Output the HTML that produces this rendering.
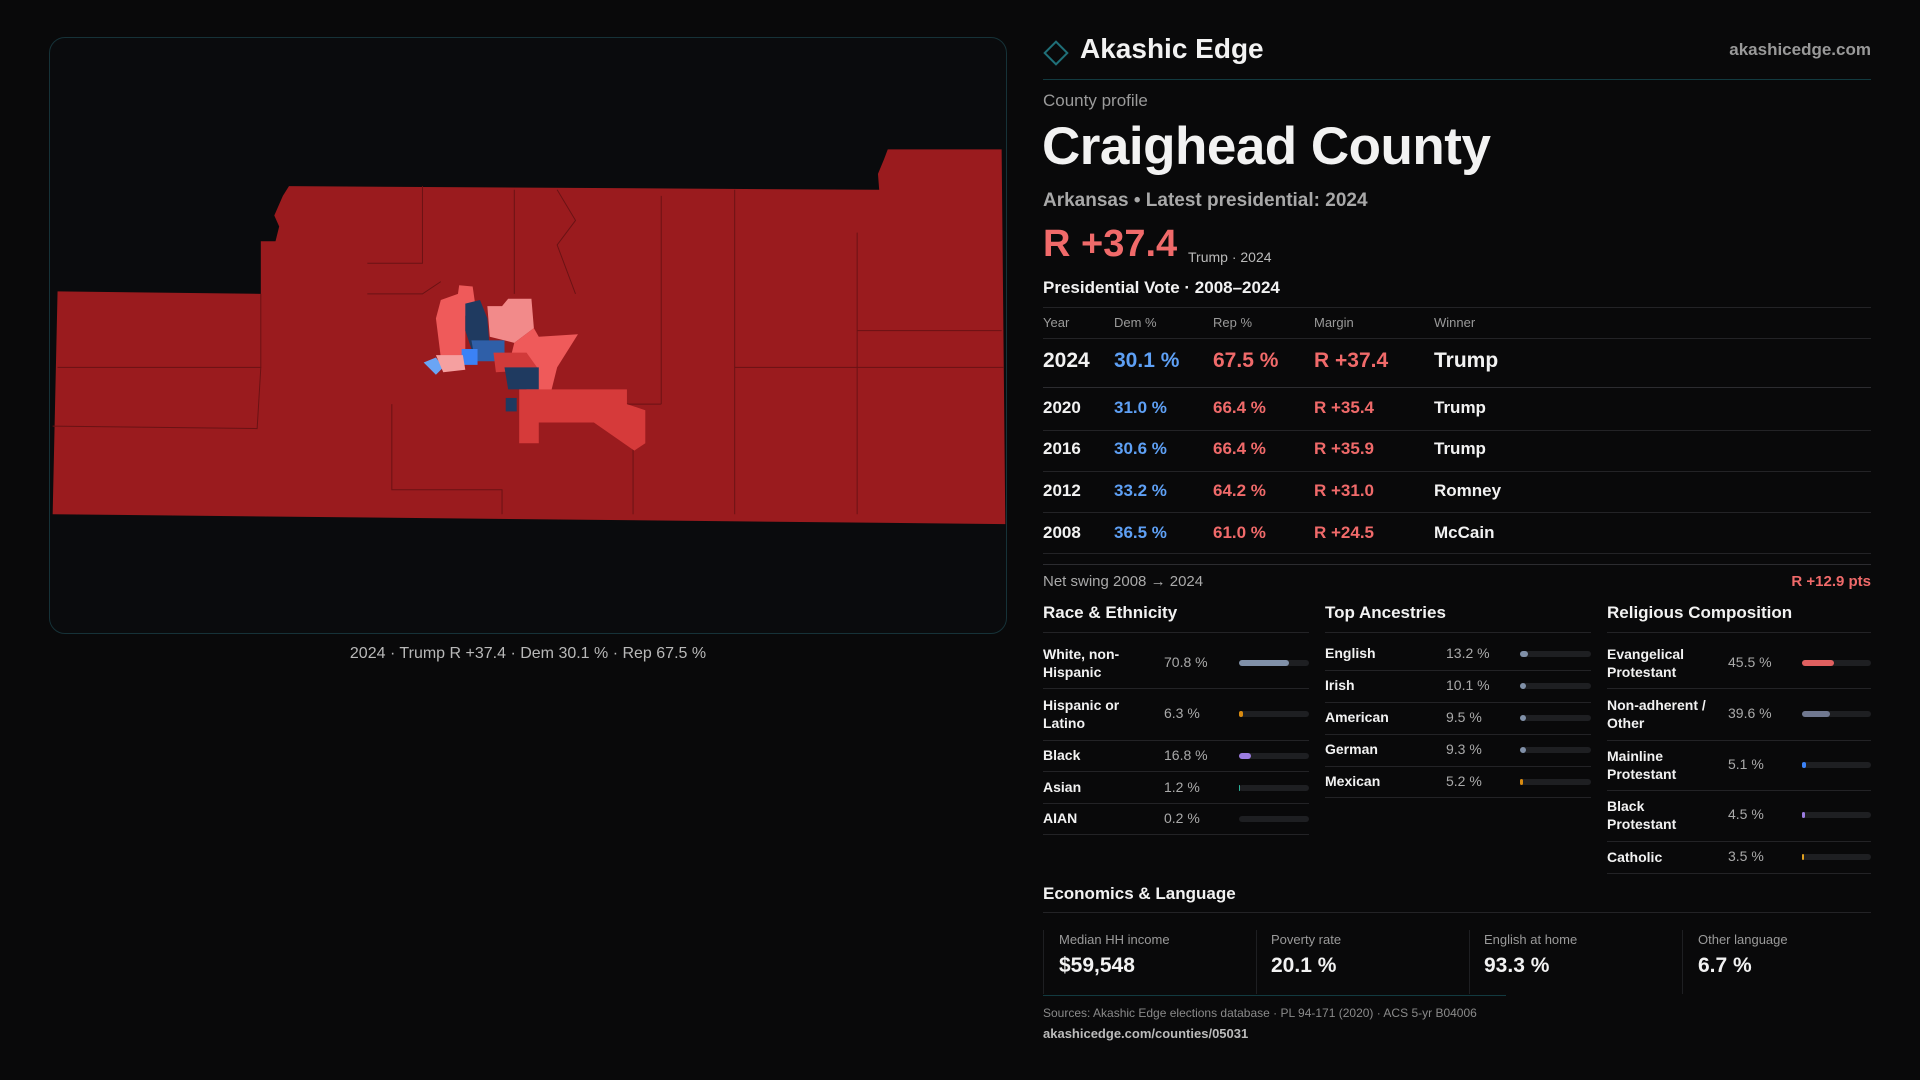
<!DOCTYPE html>
<html><head><meta charset="utf-8"><style>
*{margin:0;padding:0;box-sizing:border-box}
body{width:1920px;height:1080px;background:#09090a;font-family:"Liberation Sans",sans-serif;color:#f2f2f2;position:relative;overflow:hidden}
.a{position:absolute;white-space:nowrap}
.g{color:#9a9a9a}
.ln{position:absolute;height:1px;background:#232326}
.bar{position:absolute;height:6px;border-radius:3px;background:#1e1f22}
.bar i{position:absolute;left:0;top:0;height:6px;border-radius:3px}
.rb{color:#f06a6a}.bb{color:#5ea0f5}
.tb div{position:absolute;white-space:nowrap}
</style></head><body>
<div class="a" style="left:49px;top:37px;width:958px;height:597px;border:1px solid #163238;border-radius:16px;background:#0a0b0d"></div>
<svg class="a" style="left:0;top:0" width="1920" height="1080" viewBox="0 0 1568 882">
<path d="M47,238 L213,240 L213,197 L225,197 L228,185 L224,176 L231,160 L236,152 L718,155 L717,142 L722,130 L725,122 L818,122 L821,428 L43,420 Z" fill="#9a1b1e"/>
<g fill="none" stroke="#6a1214" stroke-width="0.8">
<path d="M213,240 L213,300 L47,300"/><path d="M213,300 L210,350 L43,348"/><path d="M345,152 L345,215 L300,215"/><path d="M420,155 L420,240"/><path d="M540,160 L540,330"/><path d="M600,155 L600,420"/><path d="M700,190 L700,420"/><path d="M540,330 L480,330"/><path d="M600,300 L820,300"/><path d="M320,330 L320,400 L410,400 L410,420"/><path d="M517,360 L517,420"/><path d="M700,270 L818,270"/><path d="M300,240 L345,240 L360,230"/><path d="M455,155 L470,180 L455,200 L470,240"/>
</g>
<path d="M360,245 L374,240 L375,233 L386,234 L388,248 L380,258 L380,290 L360,292 L356,260 Z" fill="#ef5a5a"/>
<path d="M380,248 L392,245 L398,260 L400,285 L385,285 L380,270 Z" fill="#1f3a60"/>
<path d="M398,250 L410,250 L415,244 L434,244 L436,268 L420,280 L400,275 Z" fill="#f28a8a"/>
<path d="M420,280 L436,268 L440,275 L472,273 L455,300 L450,320 L430,318 L415,300 Z" fill="#ef5a5a"/>
<path d="M385,278 L412,278 L412,295 L388,295 Z" fill="#2f5fa8"/>
<path d="M377,285 L390,285 L390,298 L377,298 Z" fill="#3b82f6"/>
<path d="M346,296 L356,292 L362,300 L356,306 Z" fill="#6aa5f5"/>
<path d="M356,290 L378,290 L380,302 L362,304 Z" fill="#f5a0a0"/>
<path d="M403,288 L430,288 L440,302 L405,304 Z" fill="#d13a3a"/>
<path d="M412,300 L440,300 L440,318 L415,318 Z" fill="#1f3a60"/>
<path d="M413,325 L422,325 L422,336 L413,336 Z" fill="#1f3a60"/>
<path d="M424,318 L512,318 L512,330 L527,335 L527,362 L518,368 L485,345 L440,345 L440,362 L424,362 Z" fill="#d63a3a"/>
</svg>
<div class="a" style="left:0;width:1056px;top:645px;text-align:center;font-size:16px;color:#b8b8b8">2024 · Trump R +37.4 · Dem 30.1 % · Rep 67.5 %</div>

<div class="a" style="left:1047px;top:44px;width:18px;height:18px;border:2px solid #1f6f78;transform:rotate(45deg)"></div>
<div class="a" style="left:1080px;top:33px;font-size:28px;font-weight:bold">Akashic Edge</div>
<div class="a g" style="right:49px;top:40px;font-size:17px;font-weight:bold;color:#999">akashicedge.com</div>
<div class="ln" style="left:1043px;width:828px;top:79px;background:#123a40"></div>
<div class="a g" style="left:1043px;top:91px;font-size:17px">County profile</div>
<div class="a" style="left:1042px;top:116px;font-size:53px;font-weight:bold;letter-spacing:-0.5px">Craighead County</div>
<div class="a" style="left:1043px;top:190px;font-size:19px;font-weight:bold;color:#a8a8a8">Arkansas • Latest presidential: 2024</div>
<div class="a rb" style="left:1043px;top:223px;font-size:38px;font-weight:bold">R +37.4</div>
<div class="a" style="left:1188px;top:249px;font-size:14px;color:#bbb">Trump · 2024</div>
<div class="a" style="left:1043px;top:278px;font-size:17px;font-weight:bold">Presidential Vote · 2008–2024</div>
<div class="ln" style="left:1043px;width:828px;top:307px"></div>
<div class="a g" style="left:1043px;top:315px;font-size:13px">Year</div>
<div class="a g" style="left:1114px;top:315px;font-size:13px">Dem %</div>
<div class="a g" style="left:1213px;top:315px;font-size:13px">Rep %</div>
<div class="a g" style="left:1314px;top:315px;font-size:13px">Margin</div>
<div class="a g" style="left:1434px;top:315px;font-size:13px">Winner</div>
<div class="ln" style="left:1043px;width:828px;top:338px"></div>
<div class="a" style="left:1043px;top:349px;font-size:21px;font-weight:bold">2024</div>
<div class="a bb" style="left:1114px;top:349px;font-size:21px;font-weight:bold">30.1 %</div>
<div class="a rb" style="left:1213px;top:349px;font-size:21px;font-weight:bold">67.5 %</div>
<div class="a rb" style="left:1314px;top:349px;font-size:21px;font-weight:bold">R +37.4</div>
<div class="a" style="left:1434px;top:349px;font-size:21px;font-weight:bold">Trump</div>
<div class="ln" style="left:1043px;width:828px;top:387px;background:#2c2c30"></div>
<div class="tb" style="position:absolute;left:1043px;top:398px;font-size:17px;font-weight:bold;line-height:20px">
<div style="top:0">2020</div><div class="bb" style="top:0;left:71px">31.0 %</div><div class="rb" style="top:0;left:170px">66.4 %</div><div class="rb" style="top:0;left:271px">R +35.4</div><div style="top:0;left:391px">Trump</div>
<div style="top:41px">2016</div><div class="bb" style="top:41px;left:71px">30.6 %</div><div class="rb" style="top:41px;left:170px">66.4 %</div><div class="rb" style="top:41px;left:271px">R +35.9</div><div style="top:41px;left:391px">Trump</div>
<div style="top:83px">2012</div><div class="bb" style="top:83px;left:71px">33.2 %</div><div class="rb" style="top:83px;left:170px">64.2 %</div><div class="rb" style="top:83px;left:271px">R +31.0</div><div style="top:83px;left:391px">Romney</div>
<div style="top:125px">2008</div><div class="bb" style="top:125px;left:71px">36.5 %</div><div class="rb" style="top:125px;left:170px">61.0 %</div><div class="rb" style="top:125px;left:271px">R +24.5</div><div style="top:125px;left:391px">McCain</div>
</div>
<div class="ln" style="left:1043px;width:828px;top:430px"></div>
<div class="ln" style="left:1043px;width:828px;top:471px"></div>
<div class="ln" style="left:1043px;width:828px;top:512px"></div>
<div class="ln" style="left:1043px;width:828px;top:553px"></div>
<div class="ln" style="left:1043px;width:828px;top:564px;background:#2c2c30"></div>
<div class="a" style="left:1043px;top:573px;font-size:15px;color:#aaa">Net swing 2008 → 2024</div>
<div class="a rb" style="right:49px;top:573px;font-size:15px;font-weight:bold">R +12.9 pts</div>

<div class="a" style="left:1043px;top:603px;font-size:17px;font-weight:bold">Race &amp; Ethnicity</div>
<div class="a" style="left:1325px;top:603px;font-size:17px;font-weight:bold">Top Ancestries</div>
<div class="a" style="left:1607px;top:603px;font-size:17px;font-weight:bold">Religious Composition</div>
<div class="ln" style="left:1043px;width:266px;top:632px"></div>
<div class="ln" style="left:1325px;width:266px;top:632px"></div>
<div class="ln" style="left:1607px;width:264px;top:632px"></div>

<div style="position:absolute;left:1043px;top:0;font-size:14px;font-weight:bold;line-height:18px">
<div class="a" style="top:645px">White, non-<br>Hispanic</div>
<div class="a" style="top:696px">Hispanic or<br>Latino</div>
<div class="a" style="top:746px">Black</div>
<div class="a" style="top:778px">Asian</div>
<div class="a" style="top:809px">AIAN</div>
</div>
<div style="position:absolute;left:1164px;top:0;font-size:14px;color:#aaa">
<div class="a" style="top:654px">70.8 %</div><div class="a" style="top:705px">6.3 %</div><div class="a" style="top:747px">16.8 %</div><div class="a" style="top:779px">1.2 %</div><div class="a" style="top:810px">0.2 %</div>
</div>
<div class="bar" style="left:1239px;width:70px;top:660px"><i style="width:50px;background:#8090a8"></i></div>
<div class="bar" style="left:1239px;width:70px;top:711px"><i style="width:4px;background:#d88a10"></i></div>
<div class="bar" style="left:1239px;width:70px;top:753px"><i style="width:12px;background:#9b7ce0"></i></div>
<div class="bar" style="left:1239px;width:70px;top:785px"><i style="width:1px;background:#2bb39a"></i></div>
<div class="bar" style="left:1239px;width:70px;top:816px"></div>
<div class="ln" style="left:1043px;width:266px;top:688px"></div>
<div class="ln" style="left:1043px;width:266px;top:740px"></div>
<div class="ln" style="left:1043px;width:266px;top:771px"></div>
<div class="ln" style="left:1043px;width:266px;top:803px"></div>
<div class="ln" style="left:1043px;width:266px;top:834px"></div>

<div style="position:absolute;left:1325px;top:0;font-size:14px;font-weight:bold">
<div class="a" style="top:645px">English</div><div class="a" style="top:677px">Irish</div><div class="a" style="top:709px">American</div><div class="a" style="top:741px">German</div><div class="a" style="top:773px">Mexican</div>
</div>
<div style="position:absolute;left:1446px;top:0;font-size:14px;color:#aaa">
<div class="a" style="top:645px">13.2 %</div><div class="a" style="top:677px">10.1 %</div><div class="a" style="top:709px">9.5 %</div><div class="a" style="top:741px">9.3 %</div><div class="a" style="top:773px">5.2 %</div>
</div>
<div class="bar" style="left:1520px;width:71px;top:651px"><i style="width:8px;background:#8090a8"></i></div>
<div class="bar" style="left:1520px;width:71px;top:683px"><i style="width:6px;background:#8090a8"></i></div>
<div class="bar" style="left:1520px;width:71px;top:715px"><i style="width:6px;background:#8090a8"></i></div>
<div class="bar" style="left:1520px;width:71px;top:747px"><i style="width:6px;background:#8090a8"></i></div>
<div class="bar" style="left:1520px;width:71px;top:779px"><i style="width:3px;background:#d88a10"></i></div>
<div class="ln" style="left:1325px;width:266px;top:670px"></div>
<div class="ln" style="left:1325px;width:266px;top:702px"></div>
<div class="ln" style="left:1325px;width:266px;top:734px"></div>
<div class="ln" style="left:1325px;width:266px;top:766px"></div>
<div class="ln" style="left:1325px;width:266px;top:797px"></div>

<div style="position:absolute;left:1607px;top:0;font-size:14px;font-weight:bold;line-height:18px">
<div class="a" style="top:645px">Evangelical<br>Protestant</div>
<div class="a" style="top:696px">Non-adherent /<br>Other</div>
<div class="a" style="top:747px">Mainline<br>Protestant</div>
<div class="a" style="top:797px">Black<br>Protestant</div>
<div class="a" style="top:848px">Catholic</div>
</div>
<div style="position:absolute;left:1728px;top:0;font-size:14px;color:#aaa">
<div class="a" style="top:654px">45.5 %</div><div class="a" style="top:705px">39.6 %</div><div class="a" style="top:756px">5.1 %</div><div class="a" style="top:806px">4.5 %</div><div class="a" style="top:848px">3.5 %</div>
</div>
<div class="bar" style="left:1802px;width:69px;top:660px"><i style="width:32px;background:#e06060"></i></div>
<div class="bar" style="left:1802px;width:69px;top:711px"><i style="width:28px;background:#707890"></i></div>
<div class="bar" style="left:1802px;width:69px;top:762px"><i style="width:4px;background:#3b82f6"></i></div>
<div class="bar" style="left:1802px;width:69px;top:812px"><i style="width:3px;background:#9b7ce0"></i></div>
<div class="bar" style="left:1802px;width:69px;top:854px"><i style="width:2px;background:#e0a020"></i></div>
<div class="ln" style="left:1607px;width:264px;top:688px"></div>
<div class="ln" style="left:1607px;width:264px;top:740px"></div>
<div class="ln" style="left:1607px;width:264px;top:790px"></div>
<div class="ln" style="left:1607px;width:264px;top:841px"></div>
<div class="ln" style="left:1607px;width:264px;top:873px"></div>

<div class="a" style="left:1043px;top:884px;font-size:17px;font-weight:bold">Economics &amp; Language</div>
<div class="ln" style="left:1043px;width:828px;top:912px"></div>
<div style="position:absolute;left:1043px;top:930px;width:828px;height:64px">
<div class="a" style="left:0;top:0;width:1px;height:64px;background:#1e1f22"></div>
<div class="a" style="left:213px;top:0;width:1px;height:64px;background:#1e1f22"></div>
<div class="a" style="left:426px;top:0;width:1px;height:64px;background:#1e1f22"></div>
<div class="a" style="left:639px;top:0;width:1px;height:64px;background:#1e1f22"></div>
<div class="a g" style="left:16px;top:2px;font-size:13px">Median HH income</div>
<div class="a g" style="left:228px;top:2px;font-size:13px">Poverty rate</div>
<div class="a g" style="left:441px;top:2px;font-size:13px">English at home</div>
<div class="a g" style="left:655px;top:2px;font-size:13px">Other language</div>
<div class="a" style="left:16px;top:24px;font-size:21px;font-weight:bold">$59,548</div>
<div class="a" style="left:228px;top:24px;font-size:21px;font-weight:bold">20.1 %</div>
<div class="a" style="left:441px;top:24px;font-size:21px;font-weight:bold">93.3 %</div>
<div class="a" style="left:655px;top:24px;font-size:21px;font-weight:bold">6.7 %</div>
</div>
<div class="ln" style="left:1043px;width:463px;top:995px;background:#123a40"></div>
<div class="a" style="left:1043px;top:1006px;font-size:12px;color:#8a8a8a">Sources: Akashic Edge elections database · PL 94-171 (2020) · ACS 5-yr B04006</div>
<div class="a" style="left:1043px;top:1026px;font-size:13px;color:#bbb;font-weight:bold">akashicedge.com/counties/05031</div>
</body></html>
